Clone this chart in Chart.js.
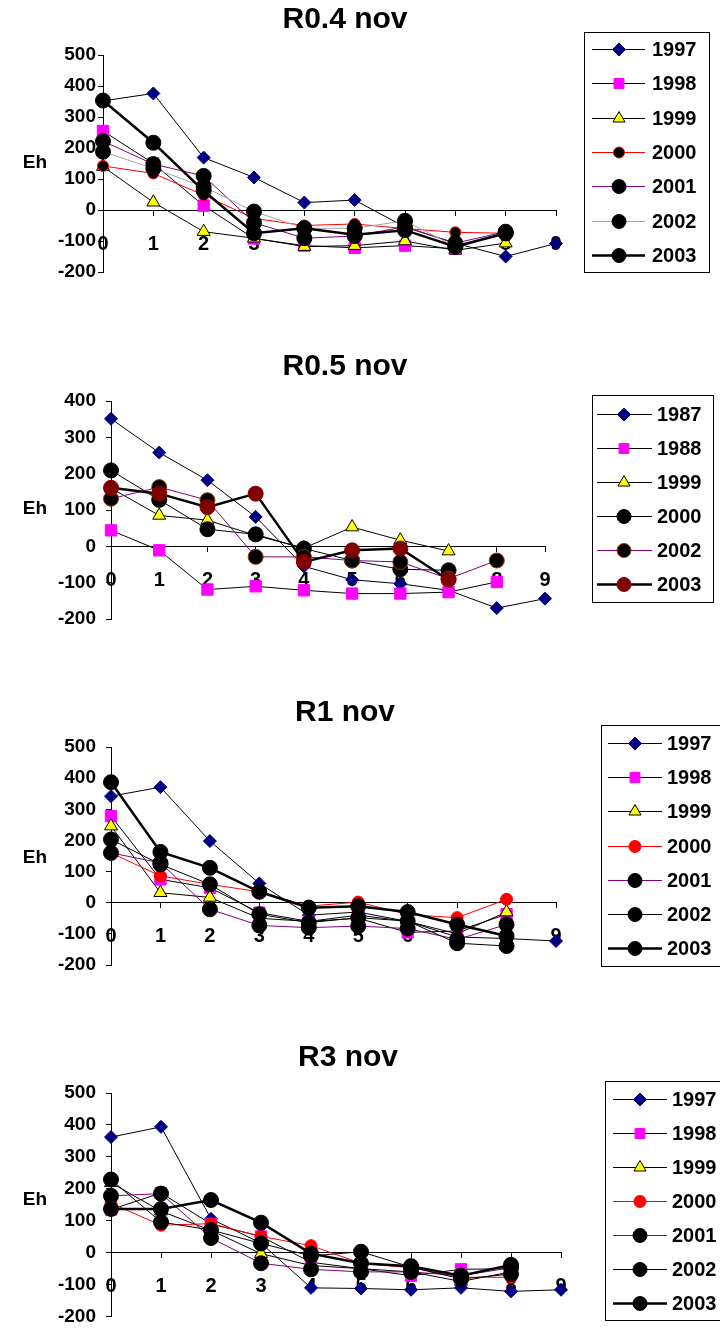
<!DOCTYPE html>
<html>
<head>
<meta charset="utf-8">
<script src="https://cdn.jsdelivr.net/npm/chart.js@4.4.1/dist/chart.umd.min.js"></script>
<style>
  html, body { margin: 0; padding: 0; background: #fff; }
  #page { position: relative; width: 720px; height: 1338px; overflow: hidden; background: #fff; }
  #page canvas { position: absolute; left: 0; }
</style>
</head>
<body>
<div id="page">
  <canvas id="p1" width="720" height="335" style="top:0px"></canvas>
  <canvas id="p2" width="720" height="345" style="top:335px"></canvas>
  <canvas id="p3" width="720" height="338" style="top:680px"></canvas>
  <canvas id="p4" width="720" height="320" style="top:1018px"></canvas>
</div>
<script>
// x categories (sampling step) shared by all four panels
const steps = [0, 1, 2, 3, 4, 5, 6, 7, 8, 9];

// R0.4 nov
const r04Years = ['1997', '1998', '1999', '2000', '2001', '2002', '2003'];
const r04_1997 = [352, 376, 169, 105, 24, 32, -55, -107, -150, -108];
const r04_1998 = [255, 150, 14, -92, -115, -122, -115, -125];
const r04_1999 = [140, 25, -70, -91, -118, -115, -100, -130, -107];
const r04_2000 = [142, 118, 48, -27, -50, -45, -60, -72, -75];
const r04_2001 = [222, 148, 110, -41, -91, -84, -54, -107, -70];
const r04_2002 = [188, 134, 75, -5, -59, -59, -35, -118, -75];
const r04_2003 = [353, 217, 62, -75, -59, -80, -65, -118, -75];

// R0.5 nov
const r05Years = ['1987', '1988', '1999', '2000', '2002', '2003'];
const r05_1987 = [351, 258, 182, 81, -55, -92, -103, -121, -170, -144];
const r05_1988 = [44, -11, -119, -110, -121, -130, -130, -126, -98];
const r05_1999 = [160, 85, 72, 30, -5, 53, 17, -13];
const r05_2000 = [209, 128, 47, 33, -6, -39, -63, -66];
const r05_2002 = [131, 163, 127, -29, -29, -39, -43, -89, -39];
const r05_2003 = [161, 145, 108, 145, -43, -11, -6, -92];

// R1 nov
const r1Years = ['1997', '1998', '1999', '2000', '2001', '2002', '2003'];
const r1_1997 = [342, 371, 198, 62, -40, -30, -60, -110, -115, -123];
const r1_1998 = [278, 75, 48, -32, -60, -50, -95, -91, -37];
const r1_1999 = [246, 32, 17, -50, -60, -40, -60, -100, -30];
const r1_2000 = [160, 86, 59, 35, -11, 2, -38, -48, 11];
const r1_2001 = [160, 128, -21, -73, -80, -75, -83, -118, -70];
const r1_2002 = [203, 123, 59, -37, -64, -48, -59, -130, -139];
const r1_2003 = [387, 163, 112, 35, -16, -11, -30, -70, -107];

// R3 nov
const r3Years = ['1997', '1998', '1999', '2000', '2001', '2002', '2003'];
const r3_1997 = [362, 394, 106, 30, -110, -112, -116, -110, -121, -116];
const r3_1998 = [135, 187, 90, 51, -30, -50, -72, -52, -50];
const r3_1999 = [219, 130, 70, -3, -40, -50, -60, -90, -60];
const r3_2000 = [155, 86, 91, 51, 22, -33, -47, -77, -77];
const r3_2001 = [178, 185, 46, -33, -52, -60, -60, -72, -47];
const r3_2002 = [229, 96, 71, 29, -10, 3, -45, -82, -67];
const r3_2003 = [137, 137, 165, 94, -3, -33, -42, -72, -38];

const FONT = '"Liberation Sans", Arial, sans-serif';

// marker / line looks, Excel-like
const DIAMOND = { shape: 'rectRot', r: 6.5, fill: '#000080', edge: '#000080', line: '#000', lw: 1 };
const SQUARE = { shape: 'rect', r: 8, fill: '#FF00FF', edge: '#FF00FF', line: '#000', lw: 1 };
const TRIANGLE = { shape: 'triangle', r: 7.5, fill: '#FFFF00', edge: '#000', line: '#000', lw: 1 };
const RED_RIM = { shape: 'circle', r: 5.5, fill: '#000', edge: '#FF0000', line: '#FF0000', lw: 1 };
const RED_DOT = { shape: 'circle', r: 6, fill: '#FF0000', edge: '#FF0000', line: '#FF0000', lw: 1 };
const DOT_BLACK = { shape: 'circle', r: 7.5, fill: '#000', edge: '#000', line: '#000', lw: 1 };
const DOT_PURPLE = { shape: 'circle', r: 7.5, fill: '#000', edge: '#000', line: '#800080', lw: 1 };
const DOT_GREY = { shape: 'circle', r: 7.5, fill: '#000', edge: '#000', line: '#A6A6A6', lw: 1 };
const DOT_BROWN = { shape: 'circle', r: 7.5, fill: '#000', edge: '#993300', line: '#800080', lw: 1 };
const DOT_THICK = { shape: 'circle', r: 7.5, fill: '#000', edge: '#000', line: '#000', lw: 2.5 };
const MAROON_THICK = { shape: 'circle', r: 7.5, fill: '#800000', edge: '#800000', line: '#000', lw: 2.5 };

const panels = [
  {
    id: 'p1', title: 'R0.4 nov', titleX: 345, titleY: 20, ehY: 163, yMax: 500,
    pad: { left: 43, right: 164, top: 55, bottom: 63 }, yPad: 2,
    legend: { x: 584, y: 32, w: 125, h: 240, row0: 49, step: 34.3, l1: 592, l2: 645, m: 619, t: 652 },
    years: r04Years,
    values: [r04_1997, r04_1998, r04_1999, r04_2000, r04_2001, r04_2002, r04_2003],
    looks: [DIAMOND, SQUARE, TRIANGLE, RED_RIM, DOT_PURPLE, DOT_GREY, DOT_THICK]
  },
  {
    id: 'p2', title: 'R0.5 nov', titleX: 345, titleY: 32, ehY: 174, yMax: 400,
    pad: { left: 51, right: 175, top: 66, bottom: 61 }, yPad: 10,
    legend: { x: 592, y: 60, w: 121, h: 207, row0: 79, step: 34, l1: 597, l2: 652, m: 624, t: 657 },
    years: r05Years,
    values: [r05_1987, r05_1988, r05_1999, r05_2000, r05_2002, r05_2003],
    looks: [DIAMOND, SQUARE, TRIANGLE, DOT_BLACK, DOT_BROWN, MAROON_THICK]
  },
  {
    id: 'p3', title: 'R1 nov', titleX: 345, titleY: 33, ehY: 178, yMax: 500,
    pad: { left: 51, right: 164, top: 67, bottom: 53 }, yPad: 10,
    legend: { x: 601, y: 45, w: 130, h: 241, row0: 63, step: 34.2, l1: 608, l2: 662, m: 635, t: 667 },
    years: r1Years,
    values: [r1_1997, r1_1998, r1_1999, r1_2000, r1_2001, r1_2002, r1_2003],
    looks: [DIAMOND, SQUARE, TRIANGLE, RED_DOT, DOT_PURPLE, DOT_BLACK, DOT_THICK]
  },
  {
    id: 'p4', title: 'R3 nov', titleX: 348, titleY: 40, ehY: 182, yMax: 500,
    pad: { left: 51, right: 159, top: 75, bottom: 9 }, yPad: 10,
    legend: { x: 605, y: 63, w: 130, h: 239, row0: 81, step: 34, l1: 613, l2: 667, m: 640, t: 672 },
    years: r3Years,
    values: [r3_1997, r3_1998, r3_1999, r3_2000, r3_2001, r3_2002, r3_2003],
    looks: [DIAMOND, SQUARE, TRIANGLE, RED_DOT, DOT_PURPLE, DOT_BLACK, DOT_THICK]
  }
];

function drawMarker(c, look, x, y, r) {
  c.beginPath();
  if (look.shape === 'rectRot') {
    c.moveTo(x, y - r); c.lineTo(x + r, y); c.lineTo(x, y + r); c.lineTo(x - r, y); c.closePath();
  } else if (look.shape === 'rect') {
    const h = r * Math.SQRT1_2;
    c.rect(x - h, y - h, 2 * h, 2 * h);
  } else if (look.shape === 'triangle') {
    for (let k = 0; k < 3; k++) {
      const a = k * 2 * Math.PI / 3;
      const px = x + Math.sin(a) * r, py = y - Math.cos(a) * r;
      if (k === 0) c.moveTo(px, py); else c.lineTo(px, py);
    }
    c.closePath();
  } else {
    c.arc(x, y, r, 0, Math.PI * 2);
  }
  c.fillStyle = look.fill;
  c.strokeStyle = look.edge;
  c.lineWidth = 1;
  c.fill();
  c.stroke();
}

function decorPlugin(p) {
  return {
    id: 'decor',
    afterDraw(chart) {
      const c = chart.ctx;
      const L = p.legend;
      c.save();
      c.fillStyle = '#000';
      c.textAlign = 'center';
      c.textBaseline = 'middle';
      c.font = 'bold 30px ' + FONT;
      c.fillText(p.title, p.titleX, p.titleY);
      c.font = 'bold 19px ' + FONT;
      c.fillText('Eh', 35, p.ehY);

      c.strokeStyle = '#000';
      c.lineWidth = 1;
      c.strokeRect(L.x + 0.5, L.y + 0.5, L.w, L.h);
      p.years.forEach((yr, i) => {
        const look = p.looks[i];
        const y = Math.round(L.row0 + i * L.step) + 0.5;
        c.beginPath();
        c.strokeStyle = look.line;
        c.lineWidth = look.lw;
        c.moveTo(L.l1, y);
        c.lineTo(L.l2, y);
        c.stroke();
        drawMarker(c, look, L.m, y, Math.min(look.r, 7));
        c.fillStyle = '#000';
        c.textAlign = 'left';
        c.font = 'bold 20px ' + FONT;
        c.fillText(yr, L.t, y + 1);
      });
      c.restore();
    }
  };
}

function makePanel(p) {
  const n = p.years.length;
  const datasets = p.years.map((yr, i) => {
    const look = p.looks[i];
    return {
      label: yr,
      data: p.values[i].map((v, k) => ({ x: steps[k], y: v })),
      borderColor: look.line,
      borderWidth: look.lw,
      pointStyle: look.shape,
      pointRadius: look.r,
      pointHoverRadius: look.r,
      pointBackgroundColor: look.fill,
      pointBorderColor: look.edge,
      pointBorderWidth: 1,
      tension: 0,
      clip: false,
      order: n - i
    };
  });

  const tickFont = { family: FONT, size: 19, weight: 'bold' };

  new Chart(document.getElementById(p.id), {
    type: 'line',
    data: { datasets },
    options: {
      responsive: false,
      animation: false,
      devicePixelRatio: 1,
      layout: { autoPadding: false, padding: p.pad },
      plugins: { legend: { display: false }, title: { display: false }, tooltip: { enabled: false } },
      scales: {
        x: {
          type: 'linear',
          min: 0,
          max: steps[steps.length - 1],
          position: { y: 0 },
          ticks: { stepSize: 1, color: '#000', font: { family: FONT, size: 20, weight: 'bold' }, padding: 17, maxRotation: 0, autoSkip: false },
          grid: { drawOnChartArea: false, drawTicks: true, tickLength: 5, color: '#000' },
          border: { display: true, color: '#000', width: 1 },
          afterFit: (s) => { s.height = 0; }
        },
        y: {
          min: -200,
          max: p.yMax,
          ticks: { stepSize: 100, color: '#000', font: tickFont, padding: p.yPad },
          grid: { drawOnChartArea: false, drawTicks: true, tickLength: 5, color: '#000' },
          border: { display: true, color: '#000', width: 1 },
          afterFit: (s) => { s.width = 60; }
        }
      }
    },
    plugins: [decorPlugin(p)]
  });
}

panels.forEach(makePanel);
</script>
</body>
</html>
